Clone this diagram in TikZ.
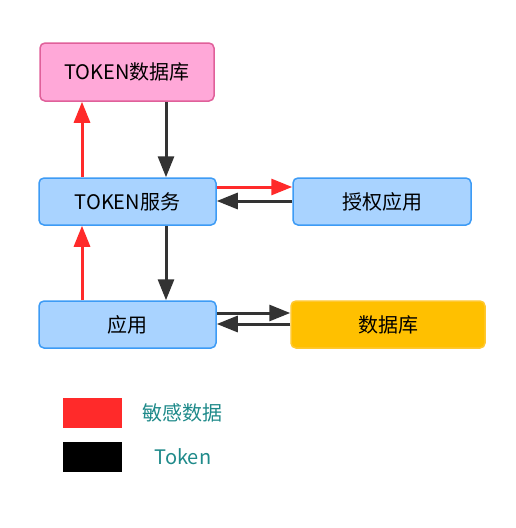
\documentclass[tikz,border=0pt]{standalone}
\usepackage{fontspec}
\setmainfont{Noto Sans CJK SC}
\usetikzlibrary{arrows.meta}
\definecolor{pinkfill}{HTML}{FFA8D8}
\definecolor{pinkdraw}{HTML}{E0609A}
\definecolor{bluefill}{HTML}{A9D3FF}
\definecolor{bluedraw}{HTML}{3D9BF5}
\definecolor{orangefill}{HTML}{FFC000}
\definecolor{orangedraw}{HTML}{FFC830}
\definecolor{redline}{HTML}{FF2A2A}
\definecolor{darkline}{HTML}{333333}
\definecolor{teal2}{HTML}{1F8A8A}
\tikzset{
  box/.style={draw, line width=1.5pt, rounded corners=5pt, minimum width=#1, minimum height=47pt, inner sep=0pt, font=\fontsize{20}{24}\selectfont},
  redarr/.style={redline, line width=3pt, -{Triangle[length=21pt,width=16pt]}},
  blkarr/.style={darkline, line width=3pt, -{Triangle[length=21pt,width=16pt]}},
  legtext/.style={teal2, font=\fontsize{20}{24}\selectfont},
}
\begin{document}
\begin{tikzpicture}[x=1pt,y=-1pt]
\useasboundingbox (0,0) rectangle (515,528);
\node[box=174pt, fill=pinkfill, draw=pinkdraw, minimum height=58pt] (tdb) at (127,72) {TOKEN数据库};
\node[box=177pt, fill=bluefill, draw=bluedraw] (tsv) at (127.5,201.5) {TOKEN服务};
\node[box=178pt, fill=bluefill, draw=bluedraw] (auth) at (382,201.5) {授权应用};
\node[box=177pt, fill=bluefill, draw=bluedraw] (app) at (127.5,324.5) {应用};
\node[box=194pt, fill=orangefill, draw=orangedraw] (db) at (388,324.5) {数据库};
% vertical arrows
\draw[redarr] (tsv.north -| 82,0) -- (tdb.south -| 82,0);
\draw[redarr] (app.north -| 82,0) -- (tsv.south -| 82,0);
\draw[blkarr] (tdb.south -| 166,0) -- (tsv.north -| 166,0);
\draw[blkarr] (tsv.south -| 166,0) -- (app.north -| 166,0);
% horizontal arrows
\draw[redarr] (tsv.east |- 0,187) -- (auth.west |- 0,187);
\draw[blkarr] (auth.west |- 0,201) -- (tsv.east |- 0,201);
\draw[blkarr] (app.east |- 0,313) -- (db.west |- 0,313);
\draw[blkarr] (db.west |- 0,324) -- (app.east |- 0,324);
% legend
\node[fill=redline, minimum width=59pt, minimum height=30pt, inner sep=0pt] (lr) at (92.5,413) {};
\node[fill=black, minimum width=59pt, minimum height=30pt, inner sep=0pt] (lb) at (92.5,457) {};
\node[legtext] (lrt) at (182,413) {敏感数据};
\node[legtext] (lbt) at (183,457) {Token};
\end{tikzpicture}
\end{document}
